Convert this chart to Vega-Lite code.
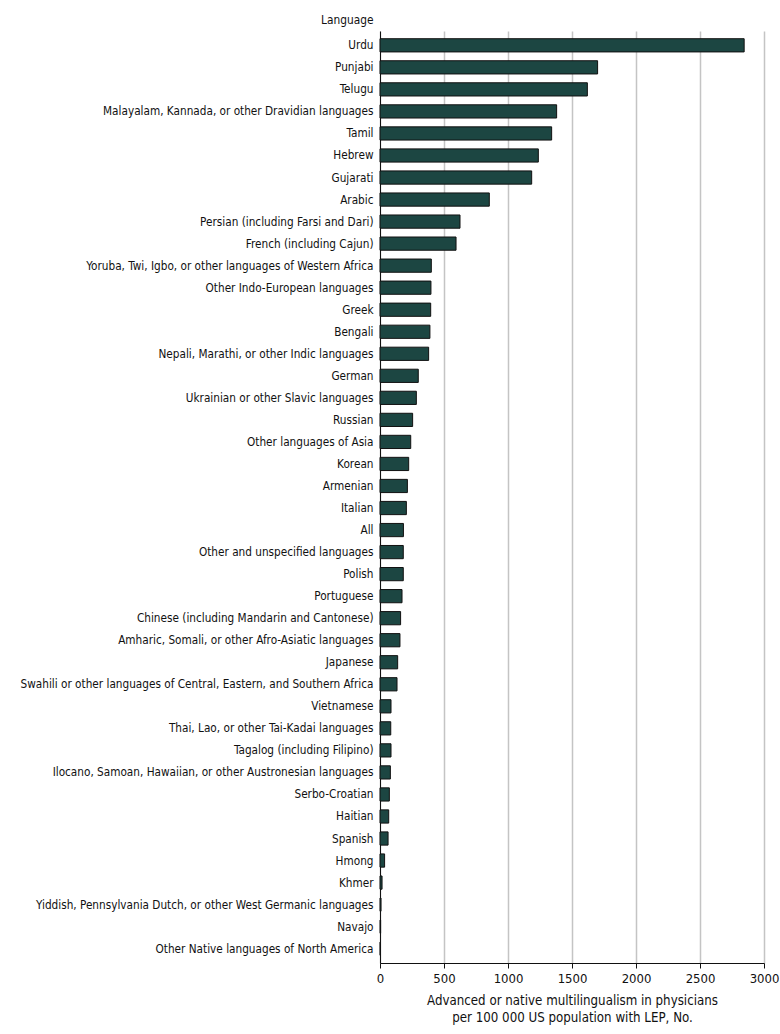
{
  "$schema": "https://vega.github.io/schema/vega-lite/v6.json",
  "width": 384,
  "height": 932,
  "autosize": {"type": "none"},
  "padding": {"left": 380, "top": 31, "right": 16, "bottom": 71},
  "background": "white",
  "data": {"values": [
    {"language": "Urdu", "value": 2845},
    {"language": "Punjabi", "value": 1700},
    {"language": "Telugu", "value": 1620},
    {"language": "Malayalam, Kannada, or other Dravidian languages", "value": 1380},
    {"language": "Tamil", "value": 1341},
    {"language": "Hebrew", "value": 1237},
    {"language": "Gujarati", "value": 1185},
    {"language": "Arabic", "value": 854},
    {"language": "Persian (including Farsi and Dari)", "value": 625},
    {"language": "French (including Cajun)", "value": 594},
    {"language": "Yoruba, Twi, Igbo, or other languages of Western Africa", "value": 401},
    {"language": "Other Indo-European languages", "value": 398},
    {"language": "Greek", "value": 396},
    {"language": "Bengali", "value": 390},
    {"language": "Nepali, Marathi, or other Indic languages", "value": 380},
    {"language": "German", "value": 299},
    {"language": "Ukrainian or other Slavic languages", "value": 284},
    {"language": "Russian", "value": 255},
    {"language": "Other languages of Asia", "value": 240},
    {"language": "Korean", "value": 224},
    {"language": "Armenian", "value": 214},
    {"language": "Italian", "value": 206},
    {"language": "All", "value": 183},
    {"language": "Other and unspecified languages", "value": 182},
    {"language": "Polish", "value": 182},
    {"language": "Portuguese", "value": 172},
    {"language": "Chinese (including Mandarin and Cantonese)", "value": 161},
    {"language": "Amharic, Somali, or other Afro-Asiatic languages", "value": 156},
    {"language": "Japanese", "value": 138},
    {"language": "Swahili or other languages of Central, Eastern, and Southern Africa", "value": 133},
    {"language": "Vietnamese", "value": 86},
    {"language": "Thai, Lao, or other Tai-Kadai languages", "value": 84},
    {"language": "Tagalog (including Filipino)", "value": 86},
    {"language": "Ilocano, Samoan, Hawaiian, or other Austronesian languages", "value": 81},
    {"language": "Serbo-Croatian", "value": 73},
    {"language": "Haitian", "value": 68},
    {"language": "Spanish", "value": 63},
    {"language": "Hmong", "value": 36},
    {"language": "Khmer", "value": 16},
    {"language": "Yiddish, Pennsylvania Dutch, or other West Germanic languages", "value": 8},
    {"language": "Navajo", "value": 5},
    {"language": "Other Native languages of North America", "value": 3}
  ]},
  "mark": {"type": "bar", "color": "#1c4642", "stroke": "#111111", "strokeWidth": 1},
  "encoding": {
    "y": {
      "field": "language", "type": "nominal", "sort": null,
      "scale": {"paddingInner": 0.4, "paddingOuter": 0.35},
      "axis": {
        "title": "Language", "titleAngle": 0, "titleAlign": "right", "titleBaseline": "middle",
        "titleX": -7, "titleY": -12, "titleFont": "DejaVu Sans Condensed", "titleFontSize": 11.8,
        "titleFontWeight": "normal", "titleColor": "#111111",
        "ticks": false, "labelPadding": 7, "labelFont": "DejaVu Sans Condensed", "labelFontSize": 11.7,
        "labelColor": "#111111", "domainColor": "#111111", "domainWidth": 1, "grid": false, "labelLimit": 400
      }
    },
    "x": {
      "field": "value", "type": "quantitative",
      "scale": {"domain": [0, 3000], "nice": false},
      "axis": {
        "values": [0, 500, 1000, 1500, 2000, 2500, 3000], "format": "d",
        "title": ["Advanced or native multilingualism in physicians", "per 100 000 US population with LEP, No."],
        "titleFont": "DejaVu Sans Condensed", "titleFontSize": 13.2, "titleFontWeight": "normal",
        "titleColor": "#111111", "titlePadding": 9, "titleLineHeight": 17.5,
        "labelFont": "DejaVu Sans Condensed", "labelFontSize": 13, "labelColor": "#111111", "labelPadding": 4,
        "tickColor": "#111111", "tickSize": 5, "domainColor": "#111111", "domainWidth": 1,
        "grid": true, "gridColor": "#c4c4c4", "gridWidth": 1.5, "labelFlush": false
      }
    }
  },
  "config": {"view": {"stroke": null}}
}
